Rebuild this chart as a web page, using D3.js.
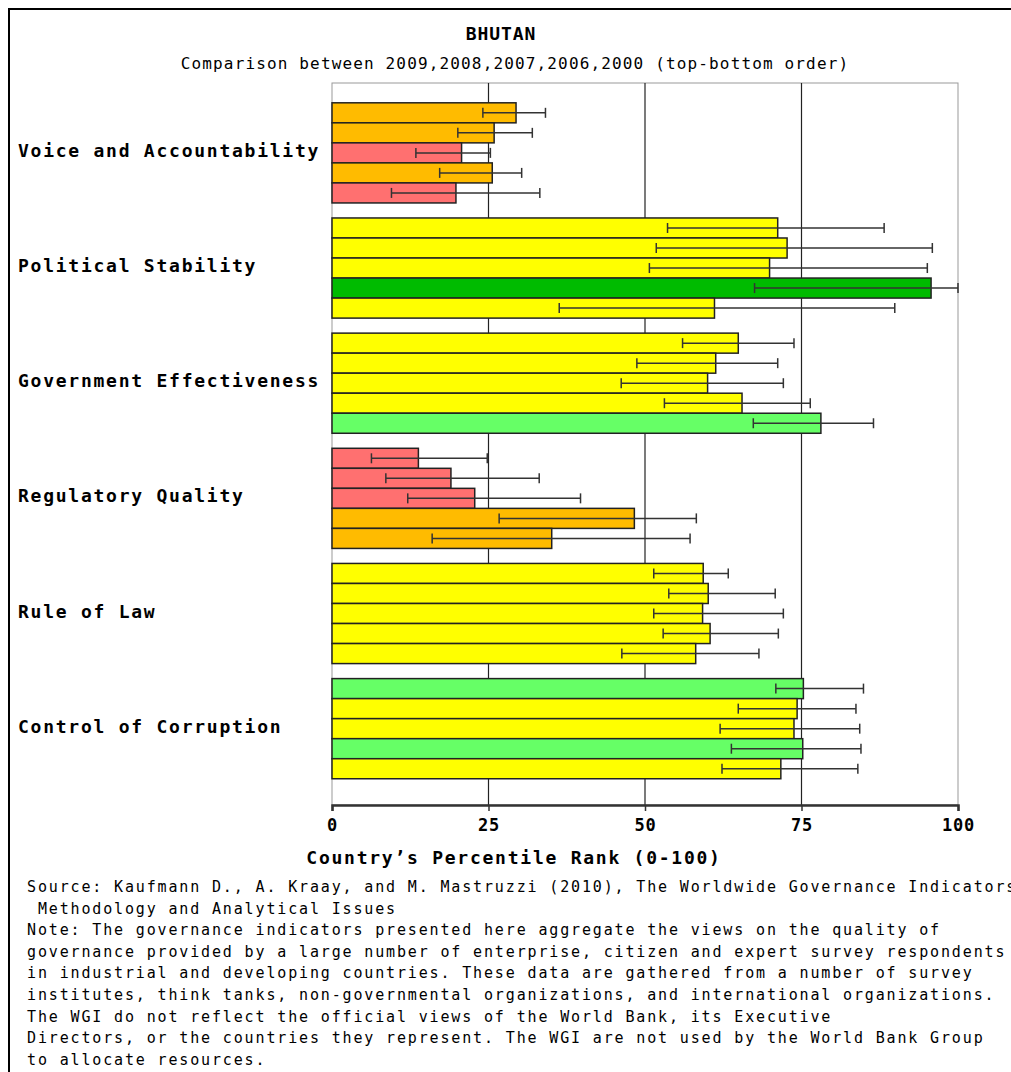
<!DOCTYPE html>
<html>
<head>
<meta charset="utf-8">
<script src="https://cdn.jsdelivr.net/npm/d3@7"></script>
<style>
  html, body { margin: 0; padding: 0; background: #fff; overflow: hidden; }
  svg { display: block; }
  text { font-family: "DejaVu Sans Mono", "Liberation Mono", monospace; fill: #000; }
</style>
</head>
<body>
<div id="chart"></div>
<script>
// WGI Bhutan: percentile rank per indicator, 2009,2008,2007,2006,2000 (top-bottom)
const country = 'BHUTAN';
const years = ['2009', '2008', '2007', '2006', '2000'];
const indicators = [
  'Voice and Accountability',
  'Political Stability',
  'Government Effectiveness',
  'Regulatory Quality',
  'Rule of Law',
  'Control of Corruption'
];
const rank = [
  [29.4, 25.9, 20.7, 25.6, 19.8],
  [71.2, 72.7, 69.9, 95.7, 61.1],
  [64.9, 61.3, 60.0, 65.5, 78.1],
  [13.8, 19.0, 22.8, 48.3, 35.1],
  [59.3, 60.1, 59.2, 60.4, 58.1],
  [75.3, 74.3, 73.8, 75.2, 71.7]
];
const lower = [
  [24.1, 20.1, 13.4, 17.2, 9.5],
  [53.6, 51.8, 50.7, 67.5, 36.3],
  [56.0, 48.7, 46.2, 53.1, 67.3],
  [6.3, 8.6, 12.1, 26.7, 16.0],
  [51.4, 53.8, 51.4, 52.9, 46.3],
  [70.9, 64.9, 62.0, 63.8, 62.3]
];
const upper = [
  [34.1, 32.0, 25.3, 30.3, 33.2],
  [88.2, 95.9, 95.1, 100, 89.9],
  [73.8, 71.2, 72.1, 76.4, 86.5],
  [24.8, 33.1, 39.7, 58.2, 57.2],
  [63.3, 70.8, 72.1, 71.3, 68.2],
  [84.9, 83.7, 84.3, 84.5, 84.0]
];
const xTicks = [0, 25, 50, 75, 100];
const notes = [
  'Source: Kaufmann D., A. Kraay, and M. Mastruzzi (2010), The Worldwide Governance Indicators:',
  ' Methodology and Analytical Issues',
  'Note: The governance indicators presented here aggregate the views on the quality of',
  'governance provided by a large number of enterprise, citizen and expert survey respondents',
  'in industrial and developing countries. These data are gathered from a number of survey',
  'institutes, think tanks, non-governmental organizations, and international organizations.',
  'The WGI do not reflect the official views of the World Bank, its Executive',
  'Directors, or the countries they represent. The WGI are not used by the World Bank Group',
  'to allocate resources.'
];

const width = 1011, height = 1072;
const plot = { left: 332, right: 958, top: 83, bottom: 805 };

const svg = d3.select('#chart').append('svg')
  .attr('width', width).attr('height', height);

// outer frame (right edge runs off the page, as in the original)
svg.append('rect').attr('x', 9).attr('y', 9).attr('width', 1030).attr('height', 1100)
  .attr('fill', '#fff').attr('stroke', '#000').attr('stroke-width', 2);

svg.append('text').attr('x', 501).attr('y', 40).attr('text-anchor', 'middle')
  .attr('font-size', '18px').attr('font-weight', '600').attr('letter-spacing', '0.9px').text(country);
svg.append('text').attr('x', 515).attr('y', 69).attr('text-anchor', 'middle')
  .attr('font-size', '16px').attr('letter-spacing', '1.15px')
  .text('Comparison between ' + years.join(',') + ' (top-bottom order)');

const x = d3.scaleLinear().domain([0, 100]).range([plot.left, plot.right]);
const y = d3.scaleBand().domain(indicators).range([plot.top, plot.bottom])
  .paddingInner(15 / 115).paddingOuter(0.2).align(0.43);
const yy = d3.scaleBand().domain(years).range([0, y.bandwidth()]);
const color = d3.scaleThreshold().domain([10, 25, 50, 75, 90])
  .range(['#cc0000', '#ff7070', '#ffbb00', '#ffff00', '#66ff66', '#00bb00']);

// plot frame + grid
svg.append('rect').attr('x', plot.left).attr('y', plot.top)
  .attr('width', plot.right - plot.left).attr('height', plot.bottom - plot.top)
  .attr('fill', 'none').attr('stroke', '#999').attr('stroke-width', 1);
svg.append('g').selectAll('line').data(xTicks.slice(1, -1)).join('line')
  .attr('x1', d => x(d)).attr('x2', d => x(d))
  .attr('y1', plot.top).attr('y2', plot.bottom)
  .attr('stroke', '#222').attr('stroke-width', 1.2);

// bars
indicators.forEach((ind, i) => {
  const g = svg.append('g').attr('transform', `translate(0,${y(ind)})`);
  const rows = years.map((yr, j) => ({ yr, v: rank[i][j], lo: lower[i][j], hi: upper[i][j] }));
  g.selectAll('rect').data(rows).join('rect')
    .attr('x', x(0)).attr('y', d => yy(d.yr))
    .attr('width', d => x(d.v) - x(0)).attr('height', yy.bandwidth())
    .attr('fill', d => color(d.v)).attr('stroke', '#222').attr('stroke-width', 1.5);

  rows.forEach(d => {
    const cy = yy(d.yr) + yy.bandwidth() / 2;
    g.append('line').attr('x1', x(d.lo)).attr('x2', x(d.hi)).attr('y1', cy).attr('y2', cy)
      .attr('stroke', '#333').attr('stroke-width', 1.5);
    [d.lo, d.hi].forEach(e => {
      g.append('line').attr('x1', x(e)).attr('x2', x(e)).attr('y1', cy - 5).attr('y2', cy + 5)
        .attr('stroke', '#333').attr('stroke-width', 1.5);
    });
  });

  svg.append('text').attr('x', 18).attr('y', y(ind) + y.bandwidth() / 2 + 4)
    .attr('font-size', '18px').attr('font-weight', 'bold').attr('letter-spacing', '1.75px')
    .text(ind);
});

// x axis
const axis = svg.append('g').attr('transform', `translate(0,${plot.bottom})`)
  .call(d3.axisBottom(x).tickValues(xTicks).tickSize(6).tickPadding(8));
axis.select('.domain').attr('stroke', '#333').attr('stroke-width', 2.5);
axis.selectAll('.tick line').attr('stroke', '#333').attr('stroke-width', 1.5);
axis.selectAll('.tick text').attr('font-family', '"DejaVu Sans Mono", monospace')
  .attr('font-size', '17px').attr('font-weight', 'bold').attr('fill', '#000')
  .attr('letter-spacing', '0.8px');

svg.append('text').attr('x', 514).attr('y', 864).attr('text-anchor', 'middle')
  .attr('font-size', '18px').attr('font-weight', 'bold').attr('letter-spacing', '1.75px')
  .text('Country\u2019s Percentile Rank (0-100)');

// source / note
svg.append('g').selectAll('text').data(notes).join('text')
  .attr('x', 27).attr('y', (d, i) => 892 + i * 21.6)
  .attr('font-size', '15px').attr('letter-spacing', '1.85px')
  .attr('xml:space', 'preserve').style('white-space', 'pre')
  .text(d => d);
</script>
</body>
</html>
